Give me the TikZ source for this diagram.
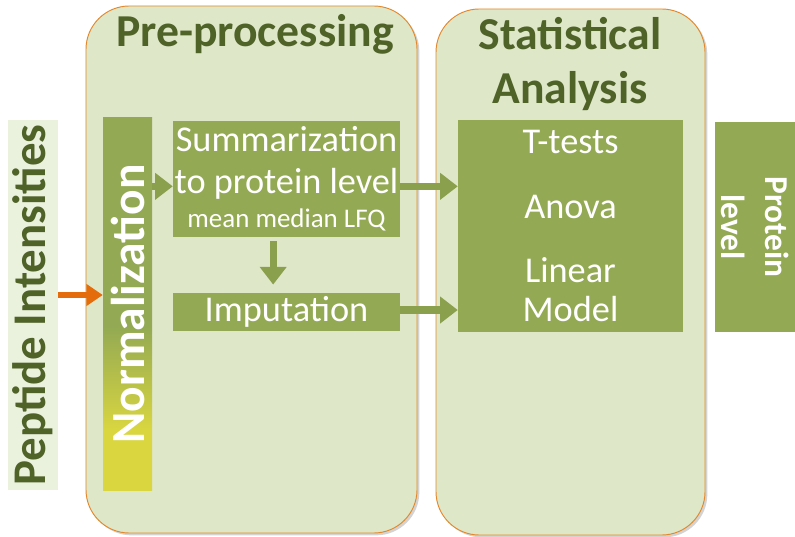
\documentclass[tikz,border=0pt]{standalone}
\usepackage{fontspec}
\setmainfont{Carlito}
\usetikzlibrary{arrows.meta,shadows}
\definecolor{panelfill}{HTML}{DEE7C8}
\definecolor{panelline}{HTML}{E3882C}
\definecolor{boxgreen}{HTML}{93A953}
\definecolor{headgreen}{HTML}{4F6228}
\definecolor{flowgreen}{HTML}{8AA04C}
\definecolor{inputbg}{HTML}{EAF1DC}
\definecolor{normyellow}{HTML}{D9D640}
\definecolor{inputorange}{HTML}{E46C0A}
\pgfdeclareverticalshading{normshade}{100bp}{color(0bp)=(normyellow);
  color(33bp)=(normyellow); color(47bp)=(boxgreen); color(100bp)=(boxgreen)}
\tikzset{panel/.style={draw=panelline, fill=panelfill, line width=0.8pt,
         rounded corners=1.3cm, inner sep=0pt,
         drop shadow={shadow xshift=2pt, shadow yshift=-2pt, opacity=0.35}},
         box/.style={fill=boxgreen, text=white, inner sep=0pt, align=center,
         font=\fontsize{31}{36}\selectfont},
         header/.style={text=headgreen, inner sep=0pt, align=center,
         font=\bfseries\fontsize{39}{46}\selectfont},
         flow/.style={draw=flowgreen, line width=6pt,
         -{Triangle[width=22pt,length=15pt]}},
         feed/.style={draw=inputorange, line width=5pt,
         -{Triangle[width=18pt,length=14pt]}}}
\begin{document}
\begin{tikzpicture}[x=0.03cm,y=-0.03cm]
  \useasboundingbox (0,0) rectangle (795,536);
  \node[panel, minimum width=9.93cm, minimum height=15.81cm] (pre) at (251.5,269.5) {};
  \node[panel, minimum width=8.07cm, minimum height=15.78cm] (stat) at (570.5,272) {};
  \node[header, anchor=base] (prehead) at (255,47) {Pre-processing};
  \node[header, anchor=north] (stathead) at (570,17) {Statistical\\Analysis};

  \node[fill=inputbg, text=headgreen, rotate=90, inner sep=0pt,
        minimum width=11.1cm, minimum height=1.5cm,
        font=\bfseries\fontsize{40}{44}\selectfont] (pep) at (33,305) {Peptide Intensities};
  \node[rotate=90, shading=normshade, text=white, inner sep=0pt,
        minimum width=11.16cm, minimum height=1.47cm,
        font=\bfseries\fontsize{40.5}{44}\selectfont] (norm) at (127.5,304) {Normalization};

  \node[box, minimum width=6.81cm, minimum height=3.45cm] (summ) at (286.5,179)
    {Summarization\\to protein level\\[-7pt]{\fontsize{23}{26}\selectfont mean median LFQ}};
  \node[box, minimum width=6.81cm, minimum height=1.14cm] (imp) at (286.5,312) {Imputation};
  \node[box, minimum width=6.75cm, minimum height=6.36cm] (tests) at (570.5,226)
    {T-tests\\[19pt]Anova\\[19pt]Linear\\[-3pt]Model};
  \node[box, rotate=-90, minimum width=6.3cm, minimum height=2.4cm,
        font=\bfseries\fontsize{28.5}{38}\selectfont] (prot) at (755,227) {Protein\\level};

  \draw[feed] ([yshift=0.3cm]pep.south) -- ([yshift=0.3cm]pep.south -| norm.north);
  \draw[flow] ([yshift=-0.22cm]summ.west -| norm.south) -- ([yshift=-0.22cm]summ.west);
  \draw[flow, shorten <=4pt, shorten >=7pt] ([xshift=-0.4cm]summ.south) -- ([xshift=-0.4cm]imp.north);
  \draw[flow] ([yshift=-0.22cm]summ.east) -- ([yshift=-0.22cm]summ.east -| tests.west);
  \draw[flow] ([yshift=0.06cm]imp.east) -- ([yshift=0.06cm]imp.east -| tests.west);
\end{tikzpicture}
\end{document}
